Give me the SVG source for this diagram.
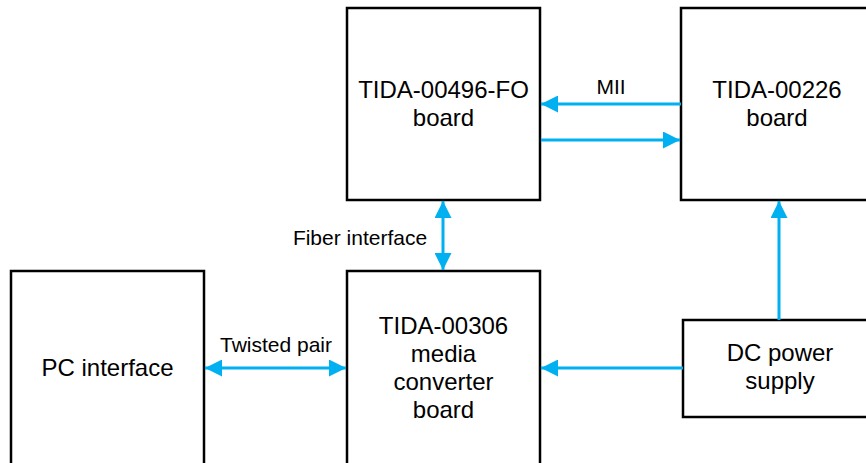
<svg xmlns="http://www.w3.org/2000/svg" width="866" height="463" viewBox="0 0 866 463">
<style>
.box{fill:#fff;stroke:#000;stroke-width:2.5}
.t{font-family:"Liberation Sans",Arial,sans-serif;font-size:24px;fill:#000;text-anchor:middle}
.l{font-family:"Liberation Sans",Arial,sans-serif;font-size:21px;fill:#000;text-anchor:middle}
.c{stroke:#00B0F0;stroke-width:3;fill:none}
</style>
<defs>
<marker id="ah" markerUnits="userSpaceOnUse" markerWidth="17" markerHeight="17" refX="16" refY="8" orient="auto-start-reverse" viewBox="0 0 16 16">
<path d="M0,0 L16,8 L0,16 z" fill="#00B0F0"/>
</marker>
</defs>
<rect width="866" height="463" fill="#fff"/>
<g id="fo">
<rect class="box" x="347" y="8" width="193" height="192"/>
<text class="t" x="443.5" y="98">TIDA-00496-FO</text>
<text class="t" x="443.5" y="126">board</text>
</g>
<g id="b226">
<rect class="box" x="681" y="8" width="200" height="192"/>
<text class="t" x="777" y="98">TIDA-00226</text>
<text class="t" x="777" y="126">board</text>
</g>
<g id="b306">
<rect class="box" x="347" y="271" width="193" height="200"/>
<text class="t" x="443.5" y="334">TIDA-00306</text>
<text class="t" x="443.5" y="362">media</text>
<text class="t" x="443.5" y="390">converter</text>
<text class="t" x="443.5" y="418">board</text>
</g>
<g id="pc">
<rect class="box" x="11" y="271" width="193" height="200"/>
<text class="t" x="107.5" y="376">PC interface</text>
</g>
<g id="dc">
<rect class="box" x="683" y="320" width="200" height="97"/>
<text class="t" x="780" y="361">DC power</text>
<text class="t" x="780" y="389">supply</text>
</g>
<g id="connectors">
<line class="c" x1="681" y1="104" x2="541" y2="104" marker-end="url(#ah)"/>
<line class="c" x1="541" y1="140" x2="680" y2="140" marker-end="url(#ah)"/>
<line class="c" x1="443" y1="201" x2="443" y2="270" marker-start="url(#ah)" marker-end="url(#ah)"/>
<line class="c" x1="205" y1="368" x2="346" y2="368" marker-start="url(#ah)" marker-end="url(#ah)"/>
<line class="c" x1="683" y1="368" x2="541" y2="368" marker-end="url(#ah)"/>
<line class="c" x1="779" y1="320" x2="779" y2="201" marker-end="url(#ah)"/>
<text class="l" x="611" y="94">MII</text>
<text class="l" x="360" y="245">Fiber interface</text>
<text class="l" x="276" y="352">Twisted pair</text>
</g>
</svg>
